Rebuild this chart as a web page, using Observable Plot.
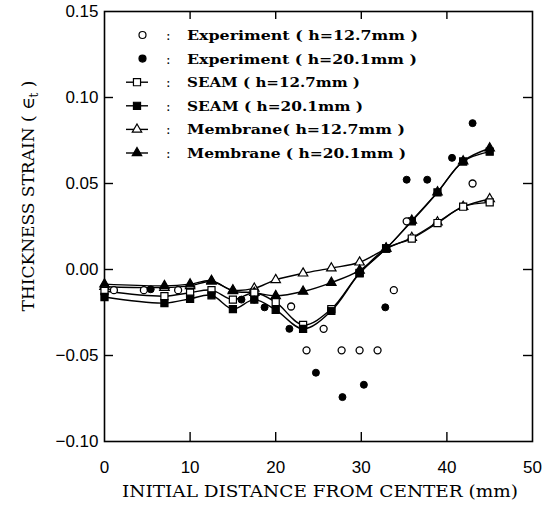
<!DOCTYPE html>
<html><head><meta charset="utf-8">
<script src="https://cdn.jsdelivr.net/npm/d3@7"></script>
<script src="https://cdn.jsdelivr.net/npm/@observablehq/plot@0.6"></script>
<style>
body{margin:0;background:#fff}
#chart{position:relative;width:551px;height:508px}
svg text{fill:#000}
</style>
</head><body><div id="chart"></div>
<script>
// ---- data ----
const nodeX = [0, 7, 10, 12.5, 15, 17.5, 20, 23.2, 26.5, 29.8, 32.9, 35.9, 38.9, 41.9, 45];
const membrane127 = [-0.0100, -0.0105, -0.0095, -0.0070, -0.0120, -0.0110, -0.0060, -0.0022, 0.0008, 0.0042, 0.0122, 0.0185, 0.0275, 0.0365, 0.0410];
const membrane201 = [-0.0085, -0.0095, -0.0085, -0.0065, -0.0125, -0.0135, -0.0153, -0.0128, -0.0076, -0.0005, 0.0122, 0.0285, 0.0450, 0.0630, 0.0705];
const seam127 = [-0.0125, -0.0155, -0.0135, -0.0120, -0.0175, -0.0135, -0.0190, -0.0322, -0.0230, -0.0020, 0.0122, 0.0180, 0.0270, 0.0365, 0.0390];
const seam201 = [-0.0160, -0.0195, -0.0170, -0.0150, -0.0230, -0.0175, -0.0235, -0.0345, -0.0240, -0.0022, 0.0122, 0.0280, 0.0448, 0.0628, 0.0685];

const exp127X = [1.1, 4.6, 8.6, 21.8, 23.6, 25.6, 27.7, 29.8, 31.9, 33.8, 35.3, 43.0];
const exp127Y = [-0.0120, -0.0120, -0.0120, -0.0215, -0.0470, -0.0345, -0.0470, -0.0470, -0.0470, -0.0120, 0.0280, 0.0500];
const exp201X = [5.4, 16.0, 17.5, 18.7, 21.6, 24.7, 27.8, 30.3, 32.8, 35.3, 37.7, 40.6, 43.0];
const exp201Y = [-0.0115, -0.0175, -0.0175, -0.0220, -0.0345, -0.0600, -0.0742, -0.0670, -0.0220, 0.0522, 0.0522, 0.0649, 0.0851];

const xTicks = [0, 10, 20, 30, 40, 50];
const yTicks = [-0.10, -0.05, 0.00, 0.05, 0.10, 0.15];
const xInnerTicks = [10, 20, 30, 40];
const yInnerTicks = [-0.05, 0.00, 0.05, 0.10];

const legendLabels = ["Experiment ( h=12.7mm )", "Experiment ( h=20.1mm )", "SEAM ( h=12.7mm )", "SEAM ( h=20.1mm )", "Membrane( h=12.7mm )", "Membrane ( h=20.1mm )"];
const legendSymbols = ["circle", "circle", "square", "square", "triangle", "triangle"];
const legendFilled = [false, true, false, true, false, true];
const legendLine = [false, false, true, true, true, true];
const legendWidths = [231, 230, 173, 176, 218, 219];

const xTitle = "INITIAL DISTANCE FROM CENTER (mm)";
const yTitle = "THICKNESS STRAIN ( ∈";
const ySub = "t";

// ---- layout ----
const W = 551, H = 508, mL = 104, mR = 19, mT = 11, mB = 67;
const fw = W - mL - mR, fh = H - mT - mB;
const zip = (xs, ys) => xs.map((x, i) => ({x, y: ys[i]}));

const curves = [
  {d: zip(nodeX, membrane127), sym: "triangle", filled: false},
  {d: zip(nodeX, membrane201), sym: "triangle", filled: true},
  {d: zip(nodeX, seam127), sym: "square", filled: false},
  {d: zip(nodeX, seam201), sym: "square", filled: true}
];
const symR = {circle: 3.5, square: 4.0, triangle: 3.5};

const marks = [
  Plot.axisX(xTicks, {tickSize: 0, tickPadding: 19, fontSize: 17, fontFamily: "Liberation Sans", tickFormat: d => String(d), label: null, style: "letter-spacing:1.5px"}),
  Plot.axisY(yTicks, {tickSize: 0, tickPadding: 6, fontSize: 17, fontFamily: "Liberation Sans", tickFormat: d3.format(".2f"), label: null, style: "letter-spacing:1.5px"}),
  Plot.tickX(xInnerTicks, {insetTop: fh - 9, stroke: "black", strokeWidth: 1.4}),
  Plot.tickX(xInnerTicks, {insetBottom: fh - 8, stroke: "black", strokeWidth: 1.4}),
  Plot.tickY(yInnerTicks, {insetRight: fw - 9, stroke: "black", strokeWidth: 1.4}),
  Plot.tickY(yInnerTicks, {insetLeft: fw - 9, stroke: "black", strokeWidth: 1.4}),
  Plot.frame({stroke: "black", strokeWidth: 1.6})
];
for (const c of curves) {
  marks.push(Plot.line(c.d, {x: "x", y: "y", curve: "catmull-rom", stroke: "black", strokeWidth: 1.4}));
}
for (const c of curves) {
  marks.push(Plot.dot(c.d, {x: "x", y: "y", symbol: c.sym, r: symR[c.sym], fill: c.filled ? "black" : "white", stroke: "black", strokeWidth: 1.2}));
}
marks.push(Plot.dot(zip(exp127X, exp127Y), {x: "x", y: "y", symbol: "circle", r: symR.circle, fill: "white", stroke: "black", strokeWidth: 1.3}));
marks.push(Plot.dot(zip(exp201X, exp201Y), {x: "x", y: "y", symbol: "circle", r: symR.circle, fill: "black", stroke: "black", strokeWidth: 1}));

const plot = Plot.plot({
  width: W, height: H,
  marginLeft: mL, marginRight: mR, marginTop: mT, marginBottom: mB,
  x: {domain: [0, 50], label: null},
  y: {domain: [-0.10, 0.15], label: null},
  style: {background: "white", color: "black"},
  marks
});
document.getElementById("chart").appendChild(plot);

// ---- legend and titles ----
const svg = d3.select(plot);
const lg = svg.append("g").attr("font-family", "DejaVu Serif").attr("font-size", 13.5)
  .attr("font-weight", "bold").attr("text-anchor", "start");
const sym = {circle: d3.symbolCircle, square: d3.symbolSquare, triangle: d3.symbolTriangle};
legendLabels.forEach((lab, i) => {
  const cy = 35 + i * 23.6;
  if (legendLine[i]) {
    lg.append("line").attr("x1", 126).attr("x2", 148).attr("y1", cy).attr("y2", cy).attr("stroke", "black").attr("stroke-width", 1.4);
  }
  const sx = legendLine[i] ? 137 : 142.5;
  const r = symR[legendSymbols[i]];
  lg.append("path").attr("transform", `translate(${sx},${cy})`)
    .attr("d", d3.symbol(sym[legendSymbols[i]], Math.PI * r * r)())
    .attr("fill", legendFilled[i] ? "black" : "white").attr("stroke", "black").attr("stroke-width", 1.2);
  lg.append("text").attr("x", 166).attr("y", cy + 5).attr("font-weight", "normal").text(":");
  lg.append("text").attr("x", 187).attr("y", cy + 5).attr("textLength", legendWidths[i]).attr("lengthAdjust", "spacingAndGlyphs").text(lab);
});

svg.append("text").attr("x", 320).attr("y", 497).attr("text-anchor", "middle")
  .attr("font-family", "DejaVu Serif").attr("font-size", 16)
  .attr("textLength", 396).attr("lengthAdjust", "spacingAndGlyphs").text(xTitle);

const yt = svg.append("text").attr("transform", "translate(34,196) rotate(-90)").attr("text-anchor", "middle")
  .attr("font-family", "DejaVu Serif").attr("font-size", 17);
yt.append("tspan").text(yTitle);
yt.append("tspan").attr("font-size", 12).attr("dy", 4).text(ySub);
yt.append("tspan").attr("dy", -4).text(" )");
</script>
</body></html>
